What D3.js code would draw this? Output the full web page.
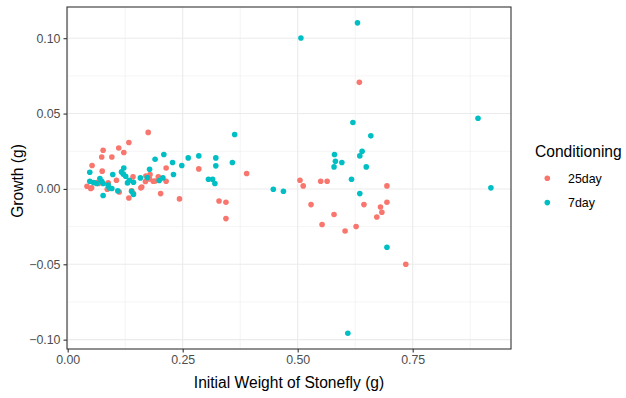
<!DOCTYPE html>
<html>
<head>
<meta charset="utf-8">
<script src="https://cdn.jsdelivr.net/npm/d3@7"></script>
<style>
  body { margin: 0; background: #fff; }
  text { font-family: "Liberation Sans", Arial, sans-serif; }
</style>
</head>
<body>
<div id="container"></div>
<script>
/* CONSTANTS AND GLOBALS */
const width = 626,
  height = 398,
  margin = { top: 7, bottom: 49, left: 67, right: 115 },
  radius = 2.8;

/* DATA */
const groups = ["25day", "7day"];
const colors = ["#F8766D", "#00BFC4"];

// 25day: initial weight (g), growth (g)
const weight25 = [0.175, 0.133, 0.111, 0.077, 0.122, 0.074, 0.096, 0.053, 0.075, 0.214,
  0.285, 0.106, 0.142, 0.169, 0.179, 0.161, 0.197, 0.190, 0.214, 0.042,
  0.050, 0.112, 0.139, 0.133, 0.202, 0.243, 0.052, 0.067, 0.086, 0.143,
  0.159, 0.170, 0.186, 0.389, 0.329, 0.344, 0.344, 0.634, 0.505, 0.512,
  0.550, 0.564, 0.694, 0.529, 0.644, 0.694, 0.680, 0.683, 0.672, 0.579,
  0.553, 0.603, 0.627, 0.735, 0.178, 0.063, 0.088];
const growth25 = [0.0375, 0.0308, 0.0272, 0.0257, 0.0242, 0.0212, 0.0212, 0.0155, 0.0118, 0.0139,
  0.0133, 0.0058, 0.0080, 0.0049, 0.0096, 0.0013, 0.0080, 0.0053, 0.0051, 0.0018,
  0.0003, -0.0020, -0.0013, -0.0060, -0.0031, -0.0066, 0.0007, 0.0036, -0.0002, -0.0031,
  0.0007, 0.0086, 0.0051, 0.0102, -0.0080, -0.0088, -0.0197, 0.0707, 0.0058, 0.0020,
  0.0051, 0.0051, 0.0020, -0.0104, -0.0104, -0.0088, -0.0120, -0.0155, -0.0186, -0.0170,
  -0.0236, -0.0279, -0.0250, -0.0500, 0.0066, 0.0042, 0.0040];

// 7day
const weight7 = [0.209, 0.190, 0.228, 0.262, 0.285, 0.248, 0.178, 0.048, 0.098, 0.122,
  0.117, 0.121, 0.126, 0.230, 0.158, 0.173, 0.199, 0.207, 0.130, 0.143,
  0.077, 0.109, 0.143, 0.363, 0.322, 0.322, 0.358, 0.306, 0.315, 0.320,
  0.447, 0.469, 0.630, 0.507, 0.620, 0.659, 0.580, 0.640, 0.635, 0.582,
  0.596, 0.579, 0.649, 0.617, 0.635, 0.892, 0.920, 0.694, 0.609, 0.048,
  0.056, 0.070, 0.074, 0.077, 0.090, 0.096, 0.088, 0.063, 0.139, 0.134];
const growth7 = [0.0228, 0.0197, 0.0175, 0.0206, 0.0219, 0.0155, 0.0131, 0.0111, 0.0096, 0.0139,
  0.0113, 0.0098, 0.0084, 0.0096, 0.0073, 0.0076, 0.0056, 0.0073, 0.0040, 0.0044,
  -0.0044, -0.0013, -0.0037, 0.0361, 0.0206, 0.0153, 0.0175, 0.0064, 0.0064, 0.0036,
  -0.0002, -0.0015, 0.1102, 0.1001, 0.0441, 0.0352, 0.0228, 0.0250, 0.0219, 0.0184,
  0.0175, 0.0146, 0.0146, 0.0064, -0.0031, 0.0469, 0.0007, -0.0387, -0.0958, 0.0051,
  0.0042, 0.0069, 0.0051, 0.0036, 0.0007, 0.0003, 0.0025, 0.0036, -0.0015, 0.0058];

const xTicks = [0, 0.25, 0.5, 0.75];
const yTicks = [-0.10, -0.05, 0, 0.05, 0.10];
const xMinor = [0.125, 0.375, 0.625, 0.875];
const yMinor = [-0.075, -0.025, 0.025, 0.075];

const data = [];
weight25.forEach((w, i) => data.push({ w: w, g: growth25[i], c: "25day" }));
weight7.forEach((w, i) => data.push({ w: w, g: growth7[i], c: "7day" }));

/* SCALES */
const xScale = d3.scaleLinear()
  .domain([-0.0015, 0.9637])
  .range([margin.left, width - margin.right]);

const yScale = d3.scaleLinear()
  .domain([-0.1062, 0.1207])
  .range([height - margin.bottom, margin.top]);

const colorScale = d3.scaleOrdinal()
  .domain(groups)
  .range(colors);

/* HTML ELEMENTS */
const svg = d3.select("#container")
  .append("svg")
  .attr("width", width)
  .attr("height", height);

const x0 = margin.left, x1 = width - margin.right,
  y0 = margin.top, y1 = height - margin.bottom;

// minor grid
svg.append("g").selectAll("line").data(xMinor).join("line")
  .attr("x1", d => xScale(d)).attr("x2", d => xScale(d))
  .attr("y1", y0).attr("y2", y1)
  .attr("stroke", "#EBEBEB").attr("stroke-width", 0.55);
svg.append("g").selectAll("line").data(yMinor).join("line")
  .attr("x1", x0).attr("x2", x1)
  .attr("y1", d => yScale(d)).attr("y2", d => yScale(d))
  .attr("stroke", "#EBEBEB").attr("stroke-width", 0.55);

// major grid
svg.append("g").selectAll("line").data(xTicks).join("line")
  .attr("x1", d => xScale(d)).attr("x2", d => xScale(d))
  .attr("y1", y0).attr("y2", y1)
  .attr("stroke", "#EBEBEB").attr("stroke-width", 1.1);
svg.append("g").selectAll("line").data(yTicks).join("line")
  .attr("x1", x0).attr("x2", x1)
  .attr("y1", d => yScale(d)).attr("y2", d => yScale(d))
  .attr("stroke", "#EBEBEB").attr("stroke-width", 1.1);

// points
svg.append("g")
  .selectAll("circle")
  .data(data)
  .join("circle")
  .attr("cx", d => xScale(d.w))
  .attr("cy", d => yScale(d.g))
  .attr("r", radius)
  .attr("fill", d => colorScale(d.c));

// panel border
svg.append("rect")
  .attr("x", x0).attr("y", y0)
  .attr("width", x1 - x0).attr("height", y1 - y0)
  .attr("fill", "none").attr("stroke", "#333333").attr("stroke-width", 1.1);

// axes
const xAxis = d3.axisBottom(xScale)
  .tickValues(xTicks).tickFormat(d3.format(".2f"))
  .tickSize(3.5).tickSizeOuter(0).tickPadding(3);
const gx = svg.append("g")
  .attr("transform", `translate(0, ${y1})`)
  .call(xAxis);

const yAxis = d3.axisLeft(yScale)
  .tickValues(yTicks).tickFormat(d3.format(".2f"))
  .tickSize(3.5).tickSizeOuter(0).tickPadding(3);
const gy = svg.append("g")
  .attr("transform", `translate(${x0}, 0)`)
  .call(yAxis);

[gx, gy].forEach(g => {
  g.select(".domain").remove();
  g.selectAll(".tick line").attr("stroke", "#333333").attr("stroke-width", 1.1);
  g.selectAll(".tick text")
    .attr("fill", "#4D4D4D")
    .style("font-size", "12.4px")
    .style("font-family", "'Liberation Sans', Arial, sans-serif");
});

// axis titles
svg.append("text")
  .attr("x", (x0 + x1) / 2).attr("y", 388)
  .attr("text-anchor", "middle")
  .attr("fill", "#000")
  .style("font-size", "15.6px")
  .text("Initial Weight of Stonefly (g)");

svg.append("text")
  .attr("transform", `translate(23, 181) rotate(-90)`)
  .attr("text-anchor", "middle")
  .attr("fill", "#000")
  .style("font-size", "15.6px")
  .text("Growth (g)");

// legend
const legend = svg.append("g");
legend.append("text")
  .attr("x", 535).attr("y", 157)
  .attr("fill", "#000")
  .style("font-size", "15.6px")
  .text("Conditioning");

groups.forEach((gname, i) => {
  legend.append("circle")
    .attr("cx", 547.3).attr("cy", 178.3 + i * 24.3)
    .attr("r", radius)
    .attr("fill", colorScale(gname));
  legend.append("text")
    .attr("x", 568).attr("y", 178.3 + i * 24.3 + 4.4)
    .attr("fill", "#000")
    .style("font-size", "12.4px")
    .text(gname);
});
</script>
</body>
</html>
